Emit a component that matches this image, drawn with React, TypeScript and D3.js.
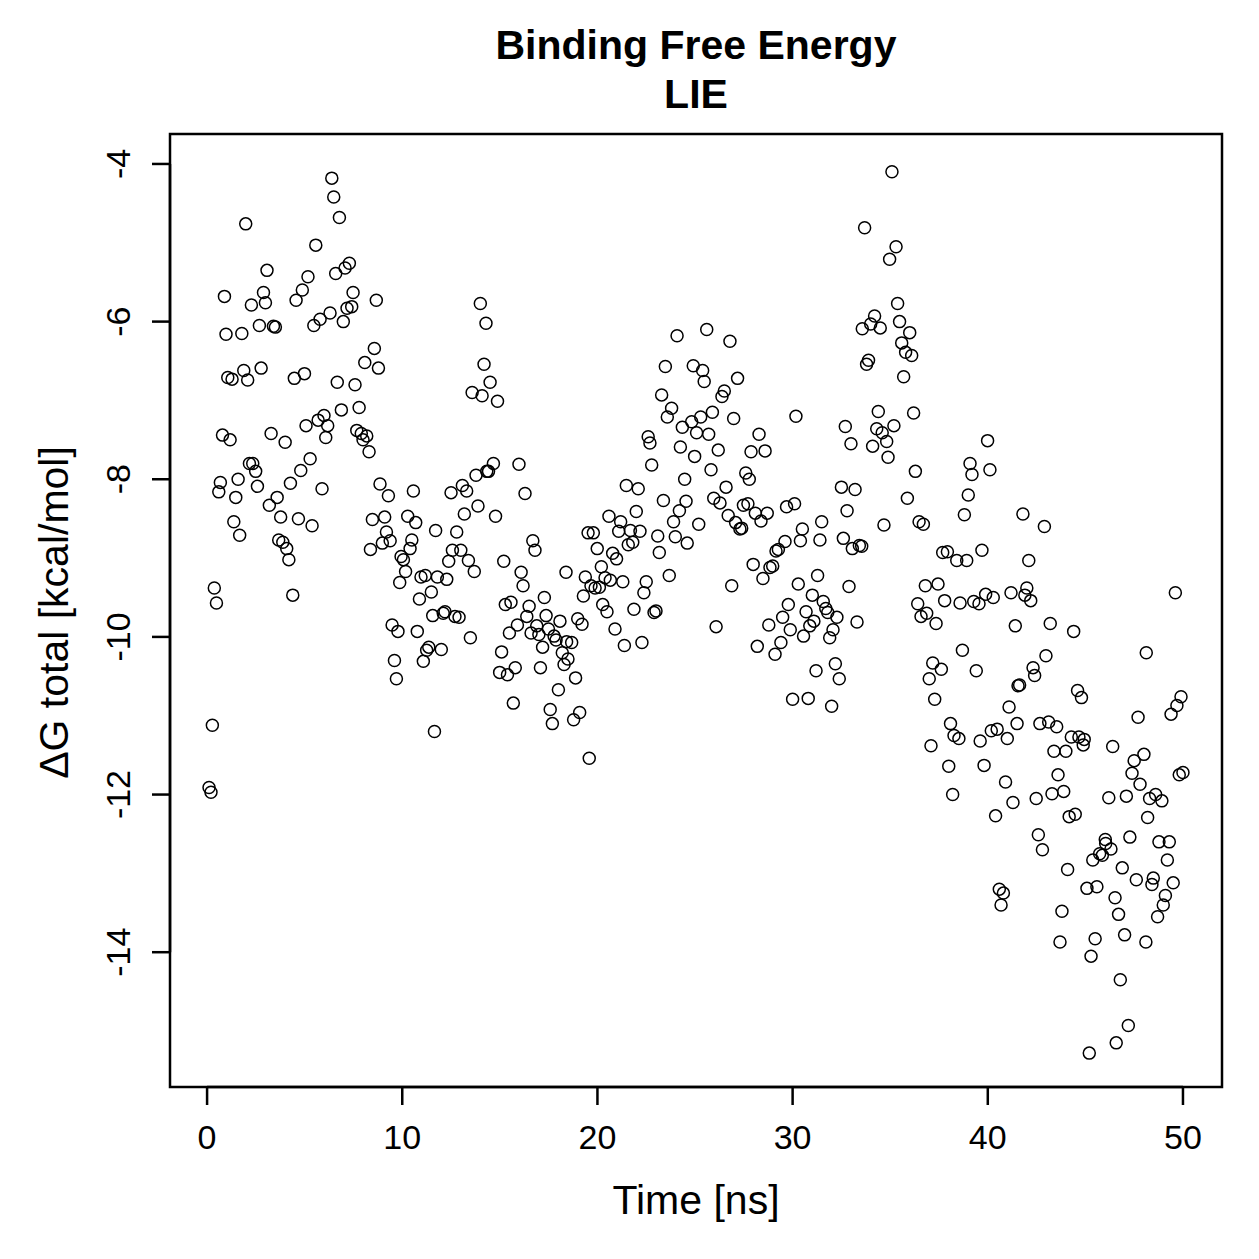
import React from 'react'
import * as d3 from 'd3'

const time = [
  0.1, 0.2, 0.27, 0.37, 0.48, 0.6, 0.68, 0.79, 0.89, 0.97, 1.06, 1.18, 1.28, 1.37, 1.47, 1.59, 1.67, 1.78, 1.88, 1.98,
  2.08, 2.17, 2.27, 2.34, 2.49, 2.58, 2.68, 2.77, 2.89, 2.99, 3.07, 3.19, 3.28, 3.4, 3.5, 3.59, 3.67, 3.77, 3.88, 4.0,
  4.08, 4.19, 4.27, 4.39, 4.47, 4.56, 4.68, 4.8, 4.88, 4.99, 5.07, 5.17, 5.28, 5.38, 5.47, 5.57, 5.69, 5.79, 5.89, 5.99,
  6.08, 6.18, 6.3, 6.39, 6.49, 6.59, 6.67, 6.78, 6.88, 6.98, 7.07, 7.17, 7.29, 7.41, 7.48, 7.58, 7.67, 7.79, 7.9, 7.99,
  8.08, 8.18, 8.3, 8.37, 8.47, 8.57, 8.67, 8.78, 8.86, 8.98, 9.1, 9.19, 9.29, 9.38, 9.48, 9.6, 9.7, 9.78, 9.87, 9.94,
  10.06, 10.17, 10.28, 10.4, 10.49, 10.57, 10.69, 10.77, 10.88, 10.96, 11.08, 11.18, 11.25, 11.36, 11.49, 11.56, 11.65, 11.71, 11.8, 12.0,
  12.1, 12.19, 12.28, 12.38, 12.5, 12.57, 12.7, 12.79, 12.91, 13.0, 13.08, 13.18, 13.3, 13.39, 13.49, 13.58, 13.69, 13.78, 13.88, 14.0,
  14.09, 14.19, 14.29, 14.33, 14.42, 14.5, 14.67, 14.78, 14.88, 14.99, 15.09, 15.2, 15.28, 15.39, 15.49, 15.57, 15.69, 15.79, 15.9, 15.98,
  16.09, 16.19, 16.29, 16.38, 16.5, 16.6, 16.69, 16.8, 16.89, 17.0, 17.08, 17.19, 17.28, 17.37, 17.49, 17.58, 17.69, 17.78, 17.88, 18.0,
  18.08, 18.2, 18.29, 18.39, 18.42, 18.49, 18.68, 18.78, 18.88, 18.99, 19.09, 19.21, 19.28, 19.38, 19.52, 19.58, 19.67, 19.79, 19.88, 19.99,
  20.1, 20.2, 20.27, 20.39, 20.49, 20.59, 20.66, 20.78, 20.9, 20.98, 21.09, 21.19, 21.3, 21.38, 21.48, 21.58, 21.69, 21.81, 21.87, 21.99,
  22.09, 22.18, 22.28, 22.38, 22.5, 22.6, 22.69, 22.78, 22.9, 23.0, 23.09, 23.17, 23.29, 23.38, 23.48, 23.58, 23.68, 23.8, 23.9, 23.99,
  24.08, 24.2, 24.25, 24.35, 24.47, 24.54, 24.6, 24.83, 24.91, 24.98, 25.08, 25.19, 25.29, 25.39, 25.47, 25.6, 25.7, 25.82, 25.89, 25.96,
  26.08, 26.19, 26.28, 26.38, 26.5, 26.59, 26.7, 26.79, 26.88, 26.98, 27.08, 27.18, 27.3, 27.39, 27.48, 27.6, 27.71, 27.78, 27.87, 27.98,
  28.09, 28.19, 28.28, 28.38, 28.48, 28.59, 28.7, 28.78, 28.84, 28.98, 29.1, 29.15, 29.27, 29.4, 29.49, 29.61, 29.69, 29.78, 29.88, 30.0,
  30.1, 30.17, 30.29, 30.4, 30.5, 30.56, 30.69, 30.8, 30.88, 31.01, 31.09, 31.2, 31.28, 31.4, 31.49, 31.57, 31.7, 31.8, 31.9, 32.0,
  32.07, 32.19, 32.27, 32.39, 32.5, 32.6, 32.7, 32.79, 32.89, 32.99, 33.06, 33.2, 33.3, 33.42, 33.54, 33.57, 33.69, 33.79, 33.89, 34.0,
  34.1, 34.2, 34.31, 34.39, 34.49, 34.59, 34.68, 34.82, 34.89, 34.97, 35.09, 35.19, 35.3, 35.38, 35.48, 35.59, 35.69, 35.79, 35.88, 36.0,
  36.1, 36.2, 36.29, 36.41, 36.48, 36.58, 36.7, 36.8, 36.87, 37.0, 37.09, 37.18, 37.28, 37.35, 37.45, 37.62, 37.69, 37.79, 37.93, 38.0,
  38.09, 38.2, 38.27, 38.41, 38.52, 38.58, 38.7, 38.8, 38.92, 39.0, 39.09, 39.19, 39.28, 39.41, 39.55, 39.61, 39.7, 39.81, 39.89, 39.99,
  40.11, 40.18, 40.28, 40.4, 40.48, 40.59, 40.68, 40.8, 40.91, 41.0, 41.09, 41.19, 41.29, 41.41, 41.5, 41.55, 41.63, 41.8, 41.9, 42.0,
  42.1, 42.2, 42.32, 42.4, 42.48, 42.59, 42.67, 42.8, 42.9, 42.98, 43.12, 43.2, 43.29, 43.39, 43.53, 43.6, 43.7, 43.8, 43.89, 44.0,
  44.09, 44.17, 44.28, 44.4, 44.48, 44.6, 44.67, 44.8, 44.89, 44.94, 45.08, 45.2, 45.29, 45.38, 45.5, 45.59, 45.73, 45.87, 46.02, 46.04,
  46.2, 46.31, 46.4, 46.52, 46.58, 46.7, 46.79, 46.89, 47.01, 47.1, 47.2, 47.28, 47.39, 47.5, 47.61, 47.7, 47.8, 48.0, 48.1, 48.12,
  48.19, 48.29, 48.41, 48.48, 48.6, 48.7, 48.77, 48.92, 48.99, 49.1, 49.2, 49.3, 49.39, 49.5, 49.61, 49.69, 49.81, 49.9, 50.0,
]

const deltaG = [
  -11.91, -11.97, -11.12, -9.38, -9.57, -8.16, -8.04, -7.44, -5.68, -6.16, -6.71, -7.5, -6.73, -8.54, -8.23, -8.0, -8.71, -6.15, -6.62, -4.76,
  -6.74, -7.8, -5.79, -7.8, -7.9, -8.09, -6.05, -6.59, -5.63, -5.76, -5.35, -8.33, -7.42, -6.06, -6.07, -8.23, -8.77, -8.48, -8.8, -7.53,
  -8.88, -9.02, -8.05, -9.47, -6.72, -5.73, -8.5, -7.89, -5.6, -6.66, -7.32, -5.43, -7.74, -8.59, -6.05, -5.03, -7.25, -5.97, -8.12, -7.19,
  -7.47, -7.32, -5.89, -4.18, -4.42, -5.39, -6.77, -4.68, -7.12, -6.0, -5.32, -5.83, -5.26, -5.81, -5.63, -6.8, -7.38, -7.09, -7.42, -7.5,
  -6.52, -7.45, -7.65, -8.89, -8.51, -6.34, -5.73, -6.59, -8.06, -8.81, -8.48, -8.67, -8.21, -8.78, -9.85, -10.3, -10.53, -9.93, -9.31, -8.98,
  -9.02, -9.17, -8.47, -8.88, -8.77, -8.15, -8.55, -9.93, -9.52, -9.24, -10.31, -9.22, -10.17, -10.13, -9.43, -9.73, -11.2, -8.65, -9.24, -10.16,
  -9.7, -9.68, -9.27, -9.04, -8.17, -8.9, -9.74, -8.67, -9.75, -8.9, -8.08, -8.44, -8.15, -9.03, -10.01, -6.9, -9.17, -7.95, -8.34, -5.77,
  -6.94, -6.54, -6.02, -7.9, -7.9, -6.77, -7.8, -8.47, -7.01, -10.45, -10.19, -9.04, -9.59, -10.48, -9.95, -9.56, -10.84, -10.39, -9.85, -7.81,
  -9.18, -9.35, -8.18, -9.74, -9.61, -9.95, -8.78, -8.9, -9.86, -9.97, -10.39, -10.13, -9.5, -9.73, -9.9, -10.92, -11.1, -9.99, -10.04, -10.67,
  -9.8, -10.2, -10.35, -9.18, -10.06, -10.28, -10.07, -11.05, -10.52, -9.77, -10.96, -9.84, -9.48, -9.24, -8.68, -11.54, -9.35, -8.68, -9.38, -8.88,
  -9.37, -9.11, -9.59, -9.25, -9.68, -8.47, -9.28, -8.94, -9.9, -9.01, -8.66, -8.54, -9.3, -10.11, -8.08, -8.83, -8.65, -8.8, -9.65, -8.41,
  -8.12, -8.66, -10.07, -9.44, -9.3, -7.46, -7.54, -7.82, -9.69, -9.67, -8.72, -8.93, -6.93, -8.27, -6.57, -7.21, -9.22, -7.1, -8.54, -8.73,
  -6.18, -8.4, -7.59, -7.34, -8.0, -8.28, -8.81, -7.27, -6.56, -7.71, -7.41, -8.57, -7.21, -6.62, -6.76, -6.1, -7.43, -7.88, -7.15, -8.24,
  -9.87, -7.63, -8.3, -6.95, -6.88, -8.1, -8.46, -6.25, -9.35, -7.23, -8.55, -6.72, -8.63, -8.62, -8.33, -7.92, -8.31, -8.0, -7.65, -9.08,
  -8.43, -10.12, -7.43, -8.53, -9.26, -7.64, -8.43, -9.85, -9.12, -9.1, -10.22, -8.91, -8.89, -10.07, -9.75, -8.79, -8.35, -9.59, -9.91, -10.79,
  -8.31, -7.2, -9.33, -8.78, -8.63, -9.99, -9.68, -10.78, -9.86, -9.47, -9.8, -10.43, -9.22, -8.77, -8.54, -9.55, -9.64, -9.69, -10.01, -10.88,
  -9.91, -10.34, -9.75, -10.53, -8.1, -8.75, -7.33, -8.4, -9.36, -7.55, -8.88, -8.13, -9.81, -8.84, -8.85, -6.09, -4.81, -6.54, -6.49, -6.03,
  -7.58, -5.93, -7.36, -7.14, -6.08, -7.41, -8.58, -7.52, -7.72, -5.21, -4.1, -7.32, -5.05, -5.77, -6.0, -6.27, -6.7, -6.39, -8.24, -6.14,
  -6.43, -7.16, -7.9, -9.58, -8.54, -9.74, -8.57, -9.35, -9.7, -10.53, -11.38, -10.33, -10.79, -9.83, -9.33, -10.41, -8.93, -9.54, -8.92, -11.64,
  -11.1, -12.0, -11.25, -9.03, -11.29, -9.57, -10.17, -8.45, -9.03, -8.2, -7.8, -7.94, -9.55, -10.43, -9.58, -11.32, -8.9, -11.63, -9.46, -7.51,
  -7.88, -11.19, -9.5, -12.27, -11.17, -13.2, -13.4, -13.25, -11.84, -11.29, -10.89, -9.44, -12.1, -9.86, -11.1, -10.62, -10.61, -8.44, -9.47, -9.38,
  -9.03, -9.54, -10.39, -10.49, -12.05, -12.51, -11.1, -12.7, -8.6, -10.24, -11.08, -9.83, -11.99, -11.45, -11.14, -11.75, -13.87, -13.48, -11.96, -11.45,
  -12.95, -12.28, -11.27, -9.93, -12.25, -10.68, -11.27, -10.77, -11.37, -11.3, -13.19, -15.28, -14.05, -12.83, -13.83, -13.17, -12.75, -12.77, -12.57, -12.62,
  -12.04, -12.69, -11.39, -13.31, -15.15, -13.52, -14.35, -12.93, -13.78, -12.02, -14.93, -12.54, -11.73, -11.57, -13.08, -11.02, -11.87, -11.49, -13.87, -10.2,
  -12.29, -12.05, -13.14, -13.06, -12.0, -13.55, -12.6, -12.08, -13.4, -13.28, -12.83, -12.6, -10.98, -13.12, -9.44, -10.87, -11.75, -10.76, -11.72,
]

const xTicks = [0, 10, 20, 30, 40, 50]
const yTicks = [-4, -6, -8, -10, -12, -14]

const W = 1259
const H = 1259
const box = { left: 170, right: 1222, top: 134, bottom: 1087 }
const font = '"Liberation Sans", Arial, Helvetica, sans-serif'

const App = () => {
  const x = d3.scaleLinear().domain([-1.9, 52]).range([box.left, box.right])
  const y = d3.scaleLinear().domain([-15.71, -3.62]).range([box.bottom, box.top])
  const points = time.map((t, i) => ({ t, g: deltaG[i] }))
  const tickLen = 18
  const cx = (box.left + box.right) / 2

  return (
    <svg
      width={W}
      height={H}
      style={{ position: 'absolute', left: 0, top: 0, background: '#fff' }}
      fontFamily={font}
    >
      <rect x={0} y={0} width={W} height={H} fill="#fff" />

      {/* points */}
      <g fill="none" stroke="#000" strokeWidth={1.5}>
        {points.map((p, i) => (
          <circle key={i} cx={x(p.t)} cy={y(p.g)} r={6} />
        ))}
      </g>

      {/* frame */}
      <rect
        x={box.left}
        y={box.top}
        width={box.right - box.left}
        height={box.bottom - box.top}
        fill="none"
        stroke="#000"
        strokeWidth={2.5}
      />

      {/* x axis */}
      <g stroke="#000" strokeWidth={2.5}>
        <line x1={x(xTicks[0])} x2={x(xTicks[xTicks.length - 1])} y1={box.bottom} y2={box.bottom} />
        {xTicks.map((t) => (
          <line key={t} x1={x(t)} x2={x(t)} y1={box.bottom} y2={box.bottom + tickLen} />
        ))}
      </g>
      {xTicks.map((t) => (
        <text key={t} x={x(t)} y={1149} fontSize={34} textAnchor="middle">
          {t}
        </text>
      ))}

      {/* y axis */}
      <g stroke="#000" strokeWidth={2.5}>
        <line x1={box.left} x2={box.left} y1={y(yTicks[0])} y2={y(yTicks[yTicks.length - 1])} />
        {yTicks.map((t) => (
          <line key={t} x1={box.left - tickLen} x2={box.left} y1={y(t)} y2={y(t)} />
        ))}
      </g>
      {yTicks.map((t) => (
        <text
          key={t}
          transform={`translate(130, ${y(t)}) rotate(-90)`}
          fontSize={34}
          textAnchor="middle"
        >
          {t}
        </text>
      ))}

      {/* labels */}
      <text x={cx} y={1214} fontSize={41} textAnchor="middle">
        Time [ns]
      </text>
      <text
        transform={`translate(68, ${(box.top + box.bottom) / 2 + 2}) rotate(-90)`}
        fontSize={41}
        textAnchor="middle"
      >
        ΔG total [kcal/mol]
      </text>

      {/* title */}
      <text x={cx} y={59} fontSize={41} fontWeight="bold" textAnchor="middle">
        Binding Free Energy
      </text>
      <text x={cx} y={108} fontSize={41} fontWeight="bold" textAnchor="middle">
        LIE
      </text>
    </svg>
  )
}

export default App
